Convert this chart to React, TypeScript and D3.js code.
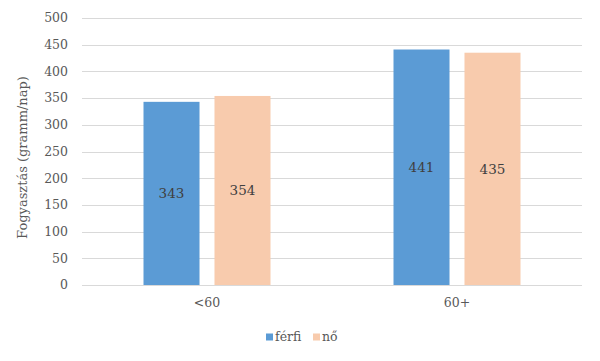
import { useEffect, useRef } from "react";
import * as d3 from "d3";

const categories = ["<60", "60+"];
const seriesNames = ["férfi", "nő"];
const ferfi = [343, 441];
const no = [354, 435];
const yTicks = [0, 50, 100, 150, 200, 250, 300, 350, 400, 450, 500];
const colors = ["#5B9BD5", "#F8CBAD"];

export default function App() {
  const svgRef = useRef<SVGSVGElement | null>(null);

  useEffect(() => {
    if (!svgRef.current) return;
    const svg = d3.select(svgRef.current);
    svg.selectAll("*").remove();

    const width = 600;
    const height = 361;
    const margin = { top: 18, right: 18, bottom: 76, left: 82 };
    const font = "'DejaVu Serif', 'Liberation Serif', serif";

    svg.attr("width", width).attr("height", height);

    const y = d3.scaleLinear().domain([0, 500]).range([height - margin.bottom, margin.top]);
    const x0 = d3
      .scaleBand<string>()
      .domain(categories)
      .range([margin.left, width - margin.right])
      .paddingInner(0.492)
      .paddingOuter(0.246);
    const x1 = d3
      .scaleBand<string>()
      .domain(seriesNames)
      .range([0, x0.bandwidth()])
      .paddingInner(0.211);

    // gridlines
    svg
      .append("g")
      .selectAll("line")
      .data(yTicks)
      .enter()
      .append("line")
      .attr("x1", margin.left)
      .attr("x2", width - margin.right)
      .attr("y1", (d) => Math.round(y(d)) + 0.5)
      .attr("y2", (d) => Math.round(y(d)) + 0.5)
      .attr("stroke", "#d9d9d9")
      .attr("stroke-width", 1);

    // y tick labels
    svg
      .append("g")
      .selectAll("text")
      .data(yTicks)
      .enter()
      .append("text")
      .attr("x", 68)
      .attr("y", (d) => y(d))
      .attr("dy", "0.35em")
      .attr("text-anchor", "end")
      .attr("fill", "#595959")
      .style("font-family", font)
      .style("font-size", "12.5px")
      .text((d) => d);

    // y axis title
    svg
      .append("text")
      .attr("transform", `translate(22, ${(y(0) + y(500)) / 2 + 6}) rotate(-90)`)
      .attr("text-anchor", "middle")
      .attr("dy", "0.35em")
      .attr("fill", "#595959")
      .style("font-family", font)
      .style("font-size", "13px")
      .text("Fogyasztás (gramm/nap)");

    const data = categories.map((c, i) => ({
      cat: c,
      values: [
        { name: seriesNames[0], value: ferfi[i], color: colors[0] },
        { name: seriesNames[1], value: no[i], color: colors[1] },
      ],
    }));

    const groups = svg
      .append("g")
      .selectAll("g")
      .data(data)
      .enter()
      .append("g")
      .attr("transform", (d) => `translate(${x0(d.cat)}, 0)`);

    groups
      .selectAll("rect")
      .data((d) => d.values)
      .enter()
      .append("rect")
      .attr("x", (d) => x1(d.name)!)
      .attr("y", (d) => y(d.value))
      .attr("width", x1.bandwidth())
      .attr("height", (d) => y(0) - y(d.value))
      .attr("fill", (d) => d.color);

    groups
      .selectAll("text")
      .data((d) => d.values)
      .enter()
      .append("text")
      .attr("x", (d) => x1(d.name)! + x1.bandwidth() / 2)
      .attr("y", (d) => (y(0) + y(d.value)) / 2)
      .attr("dy", "0.35em")
      .attr("text-anchor", "middle")
      .attr("fill", "#404040")
      .style("font-family", font)
      .style("font-size", "13.5px")
      .text((d) => d.value);

    // x labels
    svg
      .append("g")
      .selectAll("text")
      .data(categories)
      .enter()
      .append("text")
      .attr("x", (d) => x0(d)! + x0.bandwidth() / 2)
      .attr("y", 303)
      .attr("dy", "0.35em")
      .attr("text-anchor", "middle")
      .attr("fill", "#595959")
      .style("font-family", font)
      .style("font-size", "12.5px")
      .text((d) => d);

    // legend
    const legendX = [266, 313];
    const legend = svg
      .append("g")
      .selectAll("g")
      .data(seriesNames)
      .enter()
      .append("g")
      .attr("transform", (_, i) => `translate(${legendX[i]}, 337)`);
    legend
      .append("rect")
      .attr("x", 0)
      .attr("y", -3.5)
      .attr("width", 7)
      .attr("height", 7)
      .attr("fill", (_, i) => colors[i]);
    legend
      .append("text")
      .attr("x", 9)
      .attr("y", 0)
      .attr("dy", "0.35em")
      .attr("fill", "#595959")
      .style("font-family", font)
      .style("font-size", "12.5px")
      .text((d) => d);
  }, []);

  return <svg ref={svgRef} style={{ position: "absolute", left: 0, top: 0 }}></svg>;
}
